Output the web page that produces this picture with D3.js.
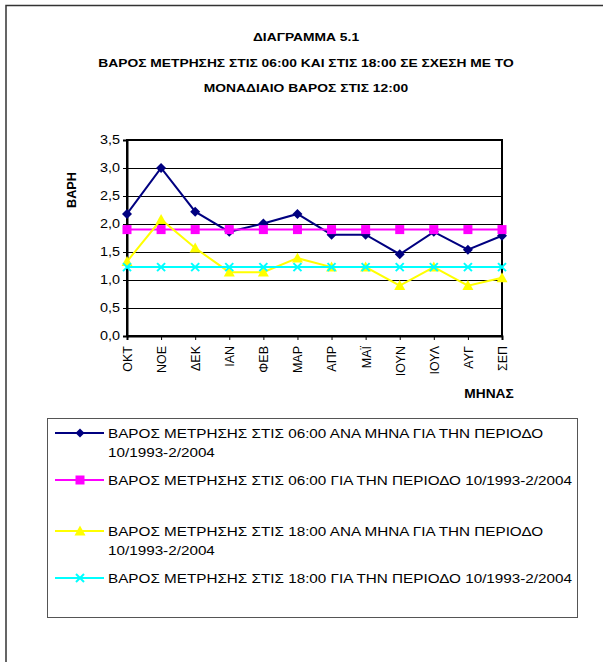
<!DOCTYPE html>
<html>
<head>
<meta charset="utf-8">
<script src="https://cdn.jsdelivr.net/npm/d3@7"></script>
<style>
  html, body { margin: 0; padding: 0; background: #fff; }
  svg { display: block; font-family: "Liberation Sans", Arial, sans-serif; }
</style>
</head>
<body>
<svg id="chart" width="603" height="662"></svg>
<script>
// Months of the hydrological year (October to September)
const months = ["ΟΚΤ", "ΝΟΕ", "ΔΕΚ", "ΙΑΝ", "ΦΕΒ", "ΜΑΡ", "ΑΠΡ", "ΜΑΪ", "ΙΟΥΝ", "ΙΟΥΛ", "ΑΥΓ", "ΣΕΠ"];

// Weight at 06:00 per month, and its mean for the whole period
const w06Monthly = [2.18, 3.00, 2.22, 1.86, 2.01, 2.18, 1.81, 1.81, 1.46, 1.86, 1.54, 1.79];
const w06Period  = [1.90, 1.90, 1.90, 1.90, 1.90, 1.90, 1.90, 1.90, 1.90, 1.90, 1.90, 1.90];

// Weight at 18:00 per month, and its mean for the whole period
const w18Monthly = [1.33, 2.08, 1.57, 1.14, 1.14, 1.39, 1.23, 1.23, 0.90, 1.23, 0.90, 1.04];
const w18Period  = [1.23, 1.23, 1.23, 1.23, 1.23, 1.23, 1.23, 1.23, 1.23, 1.23, 1.23, 1.23];

const yTicks = [0, 0.5, 1, 1.5, 2, 2.5, 3, 3.5];

const titleLines = [
  "ΔΙΑΓΡΑΜΜΑ 5.1",
  "ΒΑΡΟΣ ΜΕΤΡΗΣΗΣ ΣΤΙΣ 06:00 ΚΑΙ ΣΤΙΣ 18:00 ΣΕ ΣΧΕΣΗ ΜΕ ΤΟ",
  "ΜΟΝΑΔΙΑΙΟ ΒΑΡΟΣ ΣΤΙΣ 12:00"
];

const series = [
  { values: w06Monthly, color: "#000080", marker: "diamond",
    label: ["ΒΑΡΟΣ ΜΕΤΡΗΣΗΣ ΣΤΙΣ 06:00 ΑΝΑ ΜΗΝΑ ΓΙΑ ΤΗΝ ΠΕΡΙΟΔΟ", "10/1993-2/2004"] },
  { values: w06Period, color: "#FF00FF", marker: "square",
    label: ["ΒΑΡΟΣ ΜΕΤΡΗΣΗΣ ΣΤΙΣ 06:00 ΓΙΑ ΤΗΝ ΠΕΡΙΟΔΟ 10/1993-2/2004"] },
  { values: w18Monthly, color: "#FFFF00", marker: "triangle",
    label: ["ΒΑΡΟΣ ΜΕΤΡΗΣΗΣ ΣΤΙΣ 18:00 ΑΝΑ ΜΗΝΑ ΓΙΑ ΤΗΝ ΠΕΡΙΟΔΟ", "10/1993-2/2004"] },
  { values: w18Period, color: "#00FFFF", marker: "cross",
    label: ["ΒΑΡΟΣ ΜΕΤΡΗΣΗΣ ΣΤΙΣ 18:00 ΓΙΑ ΤΗΝ ΠΕΡΙΟΔΟ 10/1993-2/2004"] }
];

const svg = d3.select("#chart");

// Widen text horizontally by a factor, keeping its font height
function widen(sel, factor) {
  sel.each(function () {
    const len = this.getComputedTextLength();
    d3.select(this).attr("textLength", len * factor).attr("lengthAdjust", "spacingAndGlyphs");
  });
}

// Outer chart frame (only top and left edges fall inside the page)
svg.append("rect")
  .attr("x", 6).attr("y", 5.5).attr("width", 640).attr("height", 700)
  .attr("fill", "none").attr("stroke", "#333").attr("stroke-width", 1.5);

// Title
const titles = svg.append("g").selectAll("text").data(titleLines).join("text")
  .attr("x", 306).attr("y", (d, i) => 41 + i * 25.5)
  .attr("text-anchor", "middle")
  .attr("font-size", 11.5).attr("font-weight", "bold")
  .text(d => d);
widen(titles, 1.2);

// Plot area
const plot = { left: 127, right: 502, top: 140, bottom: 336 };

const x = d3.scalePoint().domain(months).range([plot.left, plot.right]);
const y = d3.scaleLinear().domain([0, 3.5]).range([plot.bottom, plot.top]);

// Horizontal gridlines
svg.append("g").selectAll("line").data(yTicks.filter(t => t > 0 && t < 3.5)).join("line")
  .attr("x1", plot.left).attr("x2", plot.right)
  .attr("y1", d => Math.round(y(d)) + 0.5).attr("y2", d => Math.round(y(d)) + 0.5)
  .attr("stroke", "#000").attr("stroke-width", 1);

// Plot border
svg.append("rect")
  .attr("x", plot.left).attr("y", plot.top)
  .attr("width", plot.right - plot.left).attr("height", plot.bottom - plot.top)
  .attr("fill", "none").attr("stroke", "#000").attr("stroke-width", 2);

// Y axis
const yAxis = svg.append("g")
  .attr("transform", `translate(${plot.left},0)`)
  .call(d3.axisLeft(y).tickValues(yTicks).tickSize(4).tickPadding(3)
    .tickFormat(d => d3.format(".1f")(d).replace(".", ",")));
yAxis.select(".domain").attr("stroke", "#000").attr("stroke-width", 2);
yAxis.selectAll(".tick line").attr("stroke", "#000");
yAxis.selectAll("text").attr("font-size", 12).attr("fill", "#000")
  .attr("font-family", "Liberation Sans, Arial, sans-serif");
widen(yAxis.selectAll("text"), 1.2);

// X axis
const xAxis = svg.append("g")
  .attr("transform", `translate(0,${plot.bottom})`)
  .call(d3.axisBottom(x).tickSize(4).tickPadding(0));
xAxis.select(".domain").attr("stroke", "#000").attr("stroke-width", 2);
xAxis.selectAll(".tick line").attr("stroke", "#000");
xAxis.selectAll("text")
  .attr("font-size", 12.5).attr("fill", "#000")
  .attr("font-family", "Liberation Sans, Arial, sans-serif")
  .attr("text-anchor", "end")
  .attr("dy", "0.35em")
  .attr("transform", "translate(0,10) rotate(-90)")
  .attr("x", 0).attr("y", 0);

// Axis titles
svg.append("text")
  .attr("transform", "translate(76,190) rotate(-90)")
  .attr("text-anchor", "middle")
  .attr("font-size", 13).attr("font-weight", "bold")
  .attr("textLength", 36).attr("lengthAdjust", "spacingAndGlyphs")
  .text("ΒΑΡΗ");
const xTitle = svg.append("text")
  .attr("x", 489).attr("y", 398)
  .attr("text-anchor", "middle")
  .attr("font-size", 12.5).attr("font-weight", "bold")
  .text("ΜΗΝΑΣ");
widen(xTitle, 1.1);

// Marker shapes
function drawMarker(g, type, color, size) {
  const s = size;
  if (type === "diamond") {
    g.append("path").attr("d", `M0,${-s}L${s},0L0,${s}L${-s},0Z`).attr("fill", color);
  } else if (type === "square") {
    g.append("rect").attr("x", -s).attr("y", -s).attr("width", 2 * s).attr("height", 2 * s).attr("fill", color);
  } else if (type === "triangle") {
    g.append("path").attr("d", `M0,${-s}L${s},${s * 0.8}L${-s},${s * 0.8}Z`).attr("fill", color);
  } else if (type === "cross") {
    g.append("path").attr("d", `M${-s},${-s}L${s},${s}M${-s},${s}L${s},${-s}`)
      .attr("stroke", color).attr("stroke-width", 2).attr("fill", "none");
  }
}

const line = d3.line().x((d, i) => x(months[i])).y(d => y(d));

// Series lines and markers
series.forEach(s => {
  const g = svg.append("g");
  g.append("path").datum(s.values)
    .attr("d", line)
    .attr("fill", "none").attr("stroke", s.color).attr("stroke-width", 2);
  s.values.forEach((v, i) => {
    const m = g.append("g").attr("transform", `translate(${x(months[i])},${y(v)})`);
    const size = s.marker === "square" ? 4.5 : s.marker === "triangle" ? 5.5 : s.marker === "cross" ? 4 : 5;
    drawMarker(m, s.marker, s.color, size);
  });
});

// Legend
const legend = svg.append("g");
legend.append("rect")
  .attr("x", 47.5).attr("y", 418.5).attr("width", 530).attr("height", 199)
  .attr("fill", "#fff").attr("stroke", "#555").attr("stroke-width", 1);

const legendRowY = [433, 480, 531, 578];
series.forEach((s, i) => {
  const g = legend.append("g").attr("transform", `translate(0,${legendRowY[i]})`);
  g.append("line").attr("x1", 55).attr("x2", 104).attr("y1", 0).attr("y2", 0)
    .attr("stroke", s.color).attr("stroke-width", 2);
  const m = g.append("g").attr("transform", "translate(80,0)");
  const size = s.marker === "square" ? 4.5 : s.marker === "triangle" ? 5.5 : s.marker === "cross" ? 4 : 4.5;
  drawMarker(m, s.marker, s.color, size);
  const t = g.selectAll("text").data(s.label).join("text")
    .attr("x", 108).attr("y", (d, j) => j * 19.5)
    .attr("dy", "0.36em")
    .attr("font-size", 12.5)
    .text(d => d);
  widen(t, 1.22);
});
</script>
</body>
</html>
